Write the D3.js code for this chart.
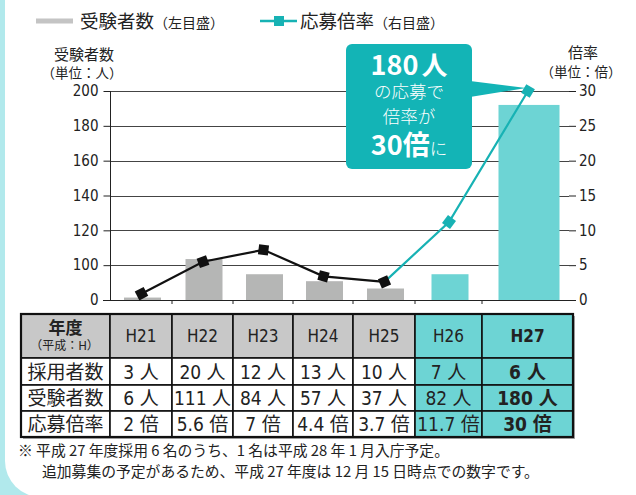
<!DOCTYPE html>
<html>
<head>
<meta charset="utf-8">
<script src="https://cdn.jsdelivr.net/npm/d3@7"></script>
<style>
  body { margin: 0; background: #fff; }
  svg { display: block; }
  text { font-family: "Noto Sans CJK JP", sans-serif; fill: #222; }
  .num { font-family: "Liberation Sans Narrow", "DejaVu Sans Condensed", "Noto Sans CJK JP", sans-serif; }
</style>
</head>
<body>
<div id="chart"></div>
<script>
// données
const years = ["H21", "H22", "H23", "H24", "H25", "H26", "H27"];
const barValues = [7, 103.5, 74, 54, 33, 74, 192];
// 応募倍率 (ligne, échelle de droite)
const rateValues = [0.9, 5.5, 7.2, 3.4, 2.6, 11.2, 30];
const leftTicks = [0, 100, 120, 140, 160, 180, 200];
const rightTicks = [0, 5, 10, 15, 20, 25, 30];

// tableau
const rowLabels = ["採用者数", "受験者数", "応募倍率"];
const hired = ["3 人", "20 人", "12 人", "13 人", "10 人", "7 人", "6 人"];
const applicants = ["6 人", "111 人", "84 人", "57 人", "37 人", "82 人", "180 人"];
const rates = ["2 倍", "5.6 倍", "7 倍", "4.4 倍", "3.7 倍", "11.7 倍", "30 倍"];
const highlighted = ["H26", "H27"];

const W = 636, H = 495;
const gray = "#b5b6b5", teal = "#6dd4d4", tealDark = "#13b4b6", lineTeal = "#17b2b4";

const svg = d3.select("#chart").append("svg")
  .attr("width", W).attr("height", H);

// fond + cadre arrondi
svg.append("rect").attr("width", W).attr("height", H).attr("fill", "#b1e9ec");
svg.append("rect").attr("x", 5).attr("y", -40).attr("width", W + 40).attr("height", 537)
  .attr("rx", 36).attr("fill", "#fff");

// ---------- échelles
const plot = {left: 110, right: 569, top: 91, bottom: 300};
const xEdge = d3.scaleLinear().domain(d3.range(8)).range([110, 172, 233, 293, 353, 415, 482, 573]);
const xc = i => (xEdge(i) + xEdge(i + 1)) / 2 + 1.5;
const step = (plot.bottom - plot.top) / 6;
const yL = d3.scaleLinear().domain([0, 100, 200]).range([plot.bottom, plot.bottom - step, plot.top]);
const yR = d3.scaleLinear().domain([0, 30]).range([plot.bottom, plot.top]);

// grille
svg.append("g").selectAll("line").data(leftTicks.slice(1)).join("line")
  .attr("x1", plot.left).attr("x2", plot.right)
  .attr("y1", d => Math.round(yL(d)) + 0.5).attr("y2", d => Math.round(yL(d)) + 0.5)
  .attr("stroke", "#444").attr("stroke-width", 1);

// barres
svg.append("g").selectAll("rect").data(barValues).join("rect")
  .attr("x", (d, i) => xc(i) - (i === 6 ? 30.5 : 18.5))
  .attr("width", (d, i) => i === 6 ? 61 : 37)
  .attr("y", d => yL(d))
  .attr("height", d => plot.bottom - yL(d))
  .attr("fill", (d, i) => highlighted.includes(years[i]) ? teal : gray);

// axe gauche
const axL = svg.append("g").attr("transform", `translate(${plot.left + 0.5},0)`)
  .call(d3.axisLeft(yL).tickValues(leftTicks).tickSize(7).tickPadding(5));
axL.select(".domain").attr("d", `M0,${plot.top}V${plot.bottom}`).attr("stroke", "#222");
axL.selectAll("line").attr("stroke", "#222");
axL.selectAll("text").attr("class", "num").style("font-size", "15px").style("fill", "#222");

// axe droit (sans ligne verticale)
const axR = svg.append("g").attr("transform", `translate(${plot.right},0)`)
  .call(d3.axisRight(yR).tickValues(rightTicks).tickSize(7).tickPadding(3));
axR.select(".domain").remove();
axR.selectAll("line").attr("stroke", "#222");
axR.selectAll("text").attr("class", "num").style("font-size", "15px").style("fill", "#222");

// axe du bas
svg.append("line").attr("x1", plot.left - 7).attr("x2", plot.right)
  .attr("y1", plot.bottom + 0.5).attr("y2", plot.bottom + 0.5).attr("stroke", "#222");
svg.append("g").selectAll("line").data(d3.range(1, 7)).join("line")
  .attr("x1", i => xEdge(i)).attr("x2", i => xEdge(i))
  .attr("y1", plot.bottom).attr("y2", plot.bottom + 4).attr("stroke", "#222");

// ligne 応募倍率
const pts = rateValues.map((v, i) => [xc(i) - 1, yR(v)]);
const line = d3.line();
svg.append("path").attr("d", line(pts.slice(0, 5))).attr("fill", "none")
  .attr("stroke", "#111").attr("stroke-width", 2.2);
svg.append("path").attr("d", line(pts.slice(4))).attr("fill", "none")
  .attr("stroke", lineTeal).attr("stroke-width", 2.2);

// marqueurs carrés orientés selon la ligne
const angle = i => {
  const a = pts[Math.max(0, i - 1)], b = pts[Math.min(pts.length - 1, i + 1)];
  return Math.atan2(b[1] - a[1], b[0] - a[0]) * 180 / Math.PI;
};
svg.append("g").selectAll("rect").data(pts).join("rect")
  .attr("x", -5).attr("y", -5).attr("width", 10).attr("height", 10)
  .attr("transform", (d, i) => `translate(${d[0]},${d[1]}) rotate(${angle(i)})`)
  .attr("fill", (d, i) => i > 4 ? lineTeal : "#111");

// titres des axes
svg.append("text").attr("x", 84).attr("y", 60).attr("text-anchor", "middle")
  .style("font-size", "15px").text("受験者数");
svg.append("text").attr("x", 82).attr("y", 78).attr("text-anchor", "middle")
  .style("font-size", "13.5px").text("（単位：人）");
svg.append("text").attr("x", 583).attr("y", 58).attr("text-anchor", "middle")
  .style("font-size", "15px").text("倍率");
svg.append("text").attr("x", 581).attr("y", 77).attr("text-anchor", "middle")
  .style("font-size", "13.5px").text("（単位：倍）");

// légende
svg.append("line").attr("x1", 36).attr("x2", 73).attr("y1", 21).attr("y2", 21)
  .attr("stroke", "#c4c4c4").attr("stroke-width", 5);
const lg1 = svg.append("text").attr("x", 80).attr("y", 28);
lg1.append("tspan").style("font-size", "18.5px").text("受験者数");
lg1.append("tspan").style("font-size", "14px").text("（左目盛）");
svg.append("line").attr("x1", 260).attr("x2", 297).attr("y1", 21).attr("y2", 21)
  .attr("stroke", lineTeal).attr("stroke-width", 2.5);
svg.append("rect").attr("x", 274).attr("y", 16).attr("width", 10).attr("height", 10).attr("fill", lineTeal);
const lg2 = svg.append("text").attr("x", 300).attr("y", 28);
lg2.append("tspan").style("font-size", "18.5px").text("応募倍率");
lg2.append("tspan").style("font-size", "14px").text("（右目盛）");

// bulle
const bx = 346, by = 44, bw = 126, bh = 125;
svg.append("path")
  .attr("d", `M${bx + bw - 2},${by + 37}L${pts[6][0] - 2},${pts[6][1] - 3}L${bx + bw - 2},${by + 53}Z`)
  .attr("fill", tealDark);
svg.append("rect").attr("x", bx).attr("y", by).attr("width", bw).attr("height", bh)
  .attr("rx", 6).attr("fill", tealDark);
const cx = bx + bw / 2;
const t1 = svg.append("text").attr("x", cx).attr("y", 75).attr("text-anchor", "middle")
  .style("fill", "#fff").style("font-weight", "bold");
t1.append("tspan").style("font-size", "27px").text("180");
t1.append("tspan").style("font-size", "26px").attr("dx", 3).text("人");
svg.append("text").attr("x", cx).attr("y", 98).attr("text-anchor", "middle")
  .style("fill", "#fff").style("font-size", "17.5px").style("font-weight", 300).text("の応募で");
svg.append("text").attr("x", cx).attr("y", 123).attr("text-anchor", "middle")
  .style("fill", "#fff").style("font-size", "17.5px").style("font-weight", 300).text("倍率が");
const t4 = svg.append("text").attr("x", cx).attr("y", 155).attr("text-anchor", "middle")
  .style("fill", "#fff");
t4.append("tspan").style("font-size", "27px").style("font-weight", "bold").text("30倍");
t4.append("tspan").style("font-size", "17.5px").style("font-weight", 300).text("に");

// ---------- tableau
const tLeft = 21;
const rowY = [314, 358, 385, 411, 437];
const colX = [tLeft].concat(d3.range(8).map(i => xEdge(i)));
const rows = [hired, applicants, rates];
const tbl = svg.append("g");

// cellules
const cells = [];
for (let r = 0; r < 4; r++) {
  for (let c = 0; c < 8; c++) {
    const hl = c > 0 && highlighted.includes(years[c - 1]);
    cells.push({x: colX[c], y: rowY[r], w: colX[c + 1] - colX[c], h: rowY[r + 1] - rowY[r],
      fill: hl ? teal : (r === 0 ? "#c8c8c8" : "#fff")});
  }
}
// ombre
tbl.append("rect").attr("x", tLeft + 2).attr("y", rowY[0] + 2)
  .attr("width", colX[8] - tLeft).attr("height", rowY[4] - rowY[0]).attr("fill", "#aaa");
tbl.selectAll("rect.cell").data(cells).join("rect").attr("class", "cell")
  .attr("x", d => d.x).attr("y", d => d.y).attr("width", d => d.w).attr("height", d => d.h)
  .attr("fill", d => d.fill).attr("stroke", "#111").attr("stroke-width", 1.6);
tbl.append("rect").attr("x", tLeft).attr("y", rowY[0])
  .attr("width", colX[8] - tLeft).attr("height", rowY[4] - rowY[0])
  .attr("fill", "none").attr("stroke", "#111").attr("stroke-width", 2.2);

// en-tête
const hc = (colX[0] + colX[1]) / 2;
tbl.append("text").attr("x", hc).attr("y", 334).attr("text-anchor", "middle")
  .style("font-size", "17px").style("font-weight", "bold").text("年度");
tbl.append("text").attr("x", hc - 1).attr("y", 350).attr("text-anchor", "middle")
  .style("font-size", "12px").text("（平成：H）");
tbl.selectAll("text.yr").data(years).join("text").attr("class", "yr num")
  .attr("x", (d, i) => (colX[i + 1] + colX[i + 2]) / 2).attr("y", 342)
  .attr("text-anchor", "middle").style("font-size", "17px")
  .style("font-weight", (d, i) => i === 6 ? "bold" : "normal").text(d => d);

// lignes de données
rows.forEach((vals, r) => {
  const yy = (rowY[r + 1] + rowY[r + 2]) / 2 + 7;
  tbl.append("text").attr("x", hc).attr("y", yy).attr("text-anchor", "middle")
    .style("font-size", "19px").text(rowLabels[r]);
  tbl.selectAll("text.v" + r).data(vals).join("text").attr("class", "v" + r + " num")
    .attr("x", (d, i) => (colX[i + 1] + colX[i + 2]) / 2).attr("y", yy)
    .attr("text-anchor", "middle").style("font-size", "19px")
    .style("font-weight", (d, i) => i === 6 ? "bold" : "normal").text(d => d);
});

// notes
svg.append("text").attr("x", 18).attr("y", 456).style("font-size", "14.8px")
  .text("※ 平成 27 年度採用 6 名のうち、1 名は平成 28 年 1 月入庁予定。");
svg.append("text").attr("x", 42).attr("y", 477).style("font-size", "14.8px")
  .text("追加募集の予定があるため、平成 27 年度は 12 月 15 日時点での数字です。");
</script>
</body>
</html>
